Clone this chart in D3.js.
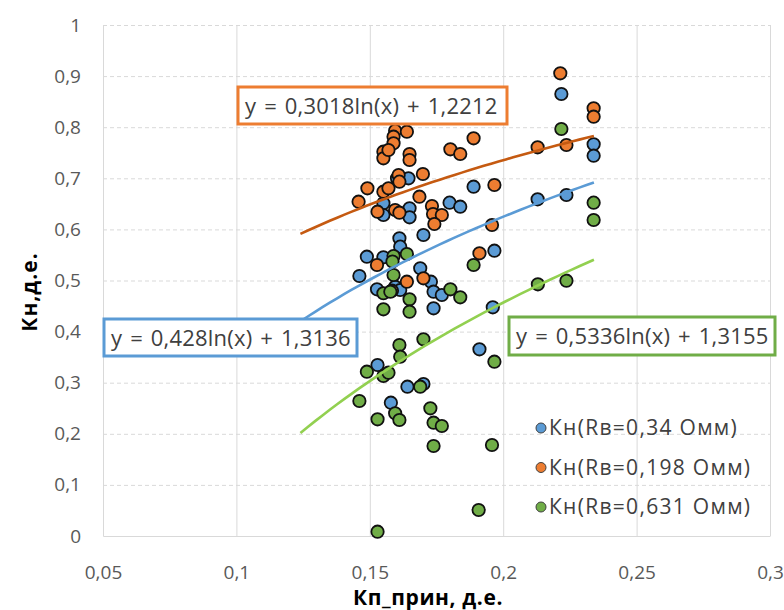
<!DOCTYPE html>
<html>
<head>
<meta charset="utf-8">
<script src="https://cdn.jsdelivr.net/npm/d3@7/dist/d3.min.js"></script>
<style>
  html, body { margin: 0; padding: 0; background: #fff; }
  svg { display: block; }
  text { font-family: "Open Sans", "Noto Sans", sans-serif; }
</style>
</head>
<body>
<svg id="chart" width="784" height="610"></svg>
<script>
// Кн(Rв=0,34 Омм)
const kpBlue = [0.2218,0.2339,0.2339,0.2129,0.2237,0.1889,0.1799,0.1839,0.1602,0.1645,0.1551,0.1551,0.1649,0.1649,0.1701,0.1611,0.1614,0.1967,0.1489,0.1551,0.1461,0.1689,0.1729,0.1527,0.1595,0.1614,0.1739,0.1770,0.1739,0.1961,0.1911,0.1529,0.1641,0.1701,0.1579];
const knBlue = [0.865,0.7665,0.7442,0.6589,0.6673,0.6836,0.6523,0.6444,0.700,0.700,0.6511,0.6282,0.6413,0.6237,0.589,0.5826,0.5662,0.5583,0.5466,0.5454,0.5088,0.5239,0.4977,0.4828,0.4879,0.4814,0.4781,0.4716,0.4456,0.4476,0.3654,0.3346,0.2922,0.2975,0.2609];

// Кн(Rв=0,198 Омм)
const kpOrange = [0.2214,0.2339,0.2339,0.1889,0.1802,0.1839,0.2129,0.2237,0.1595,0.1639,0.1589,0.1589,0.1551,0.1551,0.1570,0.1649,0.1649,0.1491,0.1458,0.1551,0.1570,0.1608,0.1611,0.1699,0.1686,0.1529,0.1595,0.1611,0.1733,0.1737,0.1770,0.1742,0.1967,0.1958,0.1911,0.1527,0.1639,0.1701,0.1583];
const knOrange = [0.9055,0.837,0.8205,0.7783,0.7568,0.7476,0.7607,0.7652,0.7932,0.7912,0.7814,0.7685,0.7521,0.7391,0.7554,0.7476,0.7358,0.6804,0.6542,0.6738,0.6804,0.7065,0.6934,0.7084,0.664,0.6346,0.638,0.6327,0.6458,0.6301,0.6282,0.6106,0.6869,0.6086,0.5532,0.5303,0.4977,0.5043,0.48];

// Кн(Rв=0,631 Омм)
const kpGreen = [0.2218,0.2339,0.2339,0.2130,0.2237,0.1889,0.1802,0.1839,0.1958,0.1967,0.1701,0.1611,0.1614,0.1489,0.1551,0.1570,0.1461,0.1529,0.1595,0.1611,0.1727,0.1739,0.1770,0.1739,0.1689,0.1589,0.1639,0.1585,0.1589,0.1551,0.1577,0.1649,0.1649,0.1551,0.1908,0.1529];
const knGreen = [0.7965,0.6523,0.6184,0.4926,0.4996,0.5303,0.4828,0.4671,0.1781,0.3411,0.3849,0.3738,0.3509,0.3215,0.3131,0.3196,0.2642,0.2284,0.2401,0.227,0.2499,0.2217,0.2153,0.1761,0.2922,0.5479,0.5519,0.537,0.5108,0.475,0.4781,0.4632,0.4389,0.4436,0.0509,0.0084];

// logarithmic trend y = a·ln(x) + b for each series
const trendA = [0.428, 0.3018, 0.5336];
const trendB = [1.3136, 1.2212, 1.3155];
const trendRange = [0.124, 0.234];
const trendLabels = ["y = 0,428ln(x) + 1,3136", "y = 0,3018ln(x) + 1,2212", "y = 0,5336ln(x) + 1,3155"];

const seriesNames = ["Кн(Rв=0,34 Омм)", "Кн(Rв=0,198 Омм)", "Кн(Rв=0,631 Омм)"];
const xTicks = [0.05, 0.1, 0.15, 0.2, 0.25, 0.3];
const yTicks = [0, 0.1, 0.2, 0.3, 0.4, 0.5, 0.6, 0.7, 0.8, 0.9, 1];

const fills = ["#5B9BD5", "#ED7D31", "#70AD47"];
const trendColors = ["#5B9BD5", "#C55A11", "#92D050"];

const svg = d3.select("#chart");
const x = d3.scaleLinear().domain([0.05, 0.3]).range([103, 770]);
const y = d3.scaleLinear().domain([0, 1]).range([536, 25]);
const fmt = v => String(+v.toFixed(2)).replace(".", ",");

// gridlines
svg.append("g")
  .attr("transform", `translate(0,${y(0)})`)
  .call(d3.axisBottom(x).tickValues(xTicks).tickSize(-(y(0) - y(1))).tickFormat(""))
  .call(g => g.select(".domain").remove())
  .call(g => g.selectAll("line").attr("stroke", "#d9d9d9").attr("stroke-width", 1));

svg.append("g")
  .attr("transform", `translate(${x(0.05)},0)`)
  .call(d3.axisLeft(y).tickValues(yTicks.slice(1)).tickSize(-(x(0.3) - x(0.05))).tickFormat(""))
  .call(g => g.select(".domain").remove())
  .call(g => g.selectAll("line").attr("stroke", "#d9d9d9").attr("stroke-width", 1).attr("stroke-dasharray", "4,3"));

// axis lines and tick labels
const xAxis = svg.append("g")
  .attr("transform", `translate(0,${y(0)})`)
  .call(d3.axisBottom(x).tickValues(xTicks).tickSize(0).tickPadding(30).tickFormat(fmt));
xAxis.select(".domain").attr("stroke", "#d9d9d9");
xAxis.selectAll("text").attr("font-size", 19).attr("fill", "#595959")
  .attr("font-family", "'Open Sans', sans-serif");

const yAxis = svg.append("g")
  .attr("transform", `translate(${x(0.05)},0)`)
  .call(d3.axisLeft(y).tickValues(yTicks).tickSize(0).tickPadding(22).tickFormat(fmt));
yAxis.select(".domain").attr("stroke", "#d9d9d9");
yAxis.selectAll("text").attr("font-size", 19).attr("fill", "#595959")
  .attr("font-family", "'Open Sans', sans-serif");

// axis titles
svg.append("text")
  .attr("x", 428).attr("y", 605)
  .attr("text-anchor", "middle")
  .attr("font-size", 21).attr("font-weight", "bold").attr("fill", "#000")
  .attr("letter-spacing", 0.6)
  .text("Кп_прин, д.е.");

svg.append("text")
  .attr("transform", "translate(37,292) rotate(-90)")
  .attr("text-anchor", "middle")
  .attr("font-size", 21).attr("font-weight", "bold").attr("fill", "#000")
  .attr("letter-spacing", 1)
  .text("Кн,д.е.");

// points
const series = [
  d3.zip(kpBlue, knBlue),
  d3.zip(kpOrange, knOrange),
  d3.zip(kpGreen, knGreen)
];
series.forEach((pts, i) => {
  svg.append("g").selectAll("circle").data(pts).join("circle")
    .attr("cx", d => x(d[0])).attr("cy", d => y(d[1]))
    .attr("r", 6.2)
    .attr("fill", fills[i])
    .attr("stroke", "#111").attr("stroke-width", 1.8);
});

// trend curves
const line = d3.line().x(d => x(d[0])).y(d => y(d[1]));
trendA.forEach((a, i) => {
  const samples = d3.range(0, 41).map(k => {
    const xv = trendRange[0] + (trendRange[1] - trendRange[0]) * k / 40;
    return [xv, a * Math.log(xv) + trendB[i]];
  });
  svg.append("path").datum(samples)
    .attr("d", line)
    .attr("fill", "none")
    .attr("stroke", trendColors[i]).attr("stroke-width", 2.6);
});

// equation labels
const boxes = [
  { x0: 104, y0: 319, x1: 357, y1: 356, color: "#5B9BD5", i: 0 },
  { x0: 238, y0: 87, x1: 507, y1: 124, color: "#ED7D31", i: 1 },
  { x0: 509, y0: 317, x1: 775, y1: 355, color: "#70AD47", i: 2 }
];
boxes.forEach(b => {
  svg.append("rect")
    .attr("x", b.x0).attr("y", b.y0)
    .attr("width", b.x1 - b.x0).attr("height", b.y1 - b.y0)
    .attr("fill", "#fff").attr("stroke", b.color).attr("stroke-width", 3);
  svg.append("text")
    .attr("x", b.x0 + 7).attr("y", (b.y0 + b.y1) / 2 + 8)
    .attr("font-size", 22).attr("fill", "#404040")
    .attr("letter-spacing", 0.2)
    .attr("word-spacing", 2)
    .text(trendLabels[b.i]);
});

// legend
const legend = svg.append("g");
seriesNames.forEach((name, i) => {
  const cy = 428 + i * 39.5;
  legend.append("circle")
    .attr("cx", 541).attr("cy", cy).attr("r", 5)
    .attr("fill", fills[i]).attr("stroke", "#404040").attr("stroke-width", 1);
  legend.append("text")
    .attr("x", 549).attr("y", cy + 7)
    .attr("font-size", 21).attr("fill", "#404040")
    .attr("letter-spacing", 1.3)
    .text(name);
});
</script>
</body>
</html>
